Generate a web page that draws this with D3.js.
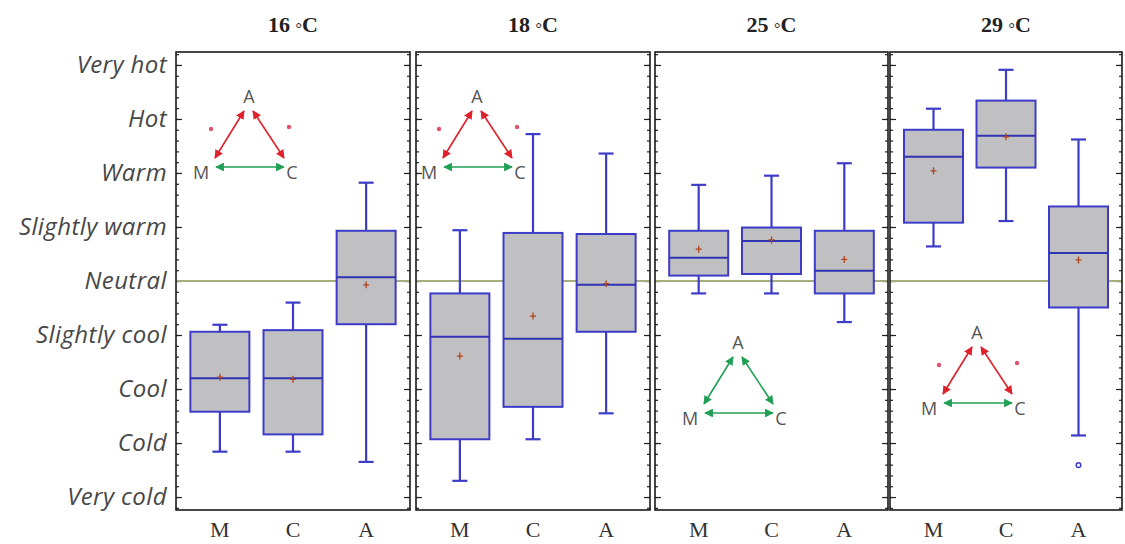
<!DOCTYPE html>
<html>
<head>
<meta charset="utf-8">
<script src="https://cdn.jsdelivr.net/npm/d3@7"></script>
<style>
    body { margin: 0; background: #fff; }
    svg { display: block; }
</style>
</head>
<body>
<div id="chart"></div>
<script>
// thermal sensation vote, -4 (very cold) .. 4 (very hot)
const temps = ['16', '18', '25', '29'];
const categories = ['M', 'C', 'A'];
const sensationLabels = ['Very cold', 'Cold', 'Cool', 'Slightly cool', 'Neutral',
    'Slightly warm', 'Warm', 'Hot', 'Very hot'];
const sensationValues = [-4, -3, -2, -1, 0, 1, 2, 3, 4];

// one row per temperature, columns M, C, A
const whiskerLow = [[-3.16, -3.16, -3.35], [-3.70, -2.93, -2.45], [-0.23, -0.23, -0.76], [0.64, 1.11, -2.86]];
const q1 = [[-2.42, -2.84, -0.80], [-2.93, -2.33, -0.94], [0.10, 0.13, -0.23], [1.08, 2.10, -0.49]];
const median = [[-1.80, -1.80, 0.07], [-1.03, -1.07, -0.07], [0.43, 0.74, 0.19], [2.30, 2.69, 0.52]];
const q3 = [[-0.94, -0.91, 0.93], [-0.23, 0.89, 0.87], [0.93, 0.99, 0.93], [2.80, 3.34, 1.38]];
const whiskerHigh = [[-0.81, -0.40, 1.82], [0.94, 2.72, 2.36], [1.78, 1.95, 2.18], [3.19, 3.91, 2.62]];
const means = [[-1.78, -1.82, -0.07], [-1.39, -0.65, -0.05], [0.59, 0.76, 0.40], [2.04, 2.67, 0.39]];
const outliers = [{ panel: 3, cat: 'A', value: -3.41 }];

// significance of pairs M-A, A-C, M-C per temperature
const significant = [[true, true, false], [true, true, false], [false, false, false], [true, true, false]];

// layout
const W = 1125, H = 544;
const plotTop = 52, plotBottom = 510;
const panelLeft = [176, 416, 655, 890];
const panelWidth = [234, 234, 233, 232];
const triangleAt = [[73, 97], [61, 97], [83, 343], [87, 333]]; // apex label, relative to panel left
const boxWidth = 59;

const boxStroke = '#3c3cc8';
const red = '#e0202a';
const green = '#21a055';

const svg = d3.select('#chart').append('svg')
    .attr('width', W)
    .attr('height', H);

const y = d3.scaleLinear().domain([-4.24, 4.24]).range([plotBottom, plotTop]);

const defs = svg.append('defs');
[['red', red], ['green', green]].forEach(([id, color]) => {
    defs.append('marker')
        .attr('id', 'arrow-' + id)
        .attr('viewBox', '0 0 10 10')
        .attr('refX', 9)
        .attr('refY', 5)
        .attr('markerWidth', 5.5)
        .attr('markerHeight', 5.5)
        .attr('orient', 'auto-start-reverse')
        .append('path')
        .attr('d', 'M0,0 L10,5 L0,10 Z')
        .attr('fill', color);
});

// y labels
const yAxis = svg.append('g')
    .attr('transform', `translate(${panelLeft[0]},0)`)
    .call(d3.axisLeft(y)
        .tickValues(sensationValues)
        .tickFormat((d, i) => sensationLabels[i])
        .tickSize(0)
        .tickPadding(9));
yAxis.select('.domain').remove();
yAxis.selectAll('text')
    .style('font-family', '"Open Sans", sans-serif')
    .style('font-style', 'italic')
    .style('font-size', '24px')
    .style('letter-spacing', '0.4px')
    .style('fill', '#474747');

const minorTicks = d3.range(-42, 43, 2).map(d => d / 10).filter(d => d >= -4.2 && d <= 4.2);

temps.forEach((t, p) => {
    const left = panelLeft[p];
    const right = left + panelWidth[p];
    const x = d3.scalePoint().domain(categories).range([left, right]).padding(0.6);
    const g = svg.append('g');

    // inward ticks on both edges
    [[d3.axisRight, left], [d3.axisLeft, right]].forEach(([axis, pos]) => {
        [[minorTicks, 3], [sensationValues, 6]].forEach(([vals, size]) => {
            const a = g.append('g')
                .attr('transform', `translate(${pos},0)`)
                .call(axis(y).tickValues(vals).tickSize(size).tickFormat(''));
            a.select('.domain').remove();
            a.selectAll('line').attr('stroke', '#222').attr('stroke-width', 1.2);
        });
    });

    // neutral reference
    g.append('line')
        .attr('x1', left).attr('x2', right)
        .attr('y1', y(0)).attr('y2', y(0))
        .attr('stroke', '#a9ac7c')
        .attr('stroke-width', 1.8);

    categories.forEach((c, i) => {
        const cx = x(c);
        const box = g.append('g');
        box.append('line')
            .attr('x1', cx).attr('x2', cx)
            .attr('y1', y(whiskerLow[p][i])).attr('y2', y(whiskerHigh[p][i]))
            .attr('stroke', boxStroke).attr('stroke-width', 2.2);
        [whiskerLow[p][i], whiskerHigh[p][i]].forEach(v => {
            box.append('line')
                .attr('x1', cx - 7.5).attr('x2', cx + 7.5)
                .attr('y1', y(v)).attr('y2', y(v))
                .attr('stroke', boxStroke).attr('stroke-width', 2.2);
        });
        box.append('rect')
            .attr('x', cx - boxWidth / 2)
            .attr('width', boxWidth)
            .attr('y', y(q3[p][i]))
            .attr('height', y(q1[p][i]) - y(q3[p][i]))
            .attr('fill', '#c0c0c2')
            .attr('stroke', boxStroke)
            .attr('stroke-width', 2);
        box.append('line')
            .attr('x1', cx - boxWidth / 2).attr('x2', cx + boxWidth / 2)
            .attr('y1', y(median[p][i])).attr('y2', y(median[p][i]))
            .attr('stroke', '#3232b4').attr('stroke-width', 2);
        const my = y(means[p][i]);
        box.append('path')
            .attr('d', `M${cx - 3},${my} H${cx + 3} M${cx},${my - 3.5} V${my + 3.5}`)
            .attr('stroke', '#b0441e')
            .attr('stroke-width', 1.3);
    });

    outliers.filter(o => o.panel === p).forEach(o => {
        g.append('circle')
            .attr('cx', x(o.cat)).attr('cy', y(o.value))
            .attr('r', 2.3)
            .attr('fill', 'none')
            .attr('stroke', boxStroke)
            .attr('stroke-width', 1.5);
    });

    // frame
    g.append('rect')
        .attr('x', left).attr('y', plotTop)
        .attr('width', right - left).attr('height', plotBottom - plotTop)
        .attr('fill', 'none')
        .attr('stroke', '#1a1a1a')
        .attr('stroke-width', 1.6);

    // title
    const title = svg.append('text')
        .attr('x', (left + right) / 2)
        .attr('y', 32)
        .attr('text-anchor', 'middle')
        .style('font-family', '"Liberation Serif", serif')
        .style('font-weight', 'bold')
        .style('font-size', '22px')
        .style('fill', '#222');
    title.append('tspan').text(t + ' ');
    title.append('tspan').text('°').style('font-size', '16px').style('font-weight', 'normal').attr('dy', 2);
    title.append('tspan').text('C').attr('dy', -2);

    // category labels
    categories.forEach(c => {
        svg.append('text')
            .attr('x', x(c))
            .attr('y', 537)
            .attr('text-anchor', 'middle')
            .style('font-family', '"Liberation Serif", serif')
            .style('font-size', '22px')
            .style('fill', '#333')
            .text(c);
    });

    // pairwise comparison triangle
    const ax = left + triangleAt[p][0];
    const ay = triangleAt[p][1];
    const tri = svg.append('g');
    const pairs = [
        [ax - 5, ay + 14, ax - 34, ay + 61],
        [ax + 4, ay + 14, ax + 35, ay + 61],
        [ax - 33, ay + 70, ax + 35, ay + 70]
    ];
    pairs.forEach((seg, k) => {
        const sig = significant[p][k];
        tri.append('line')
            .attr('x1', seg[0]).attr('y1', seg[1])
            .attr('x2', seg[2]).attr('y2', seg[3])
            .attr('stroke', sig ? red : green)
            .attr('stroke-width', 1.6)
            .attr('marker-start', `url(#arrow-${sig ? 'red' : 'green'})`)
            .attr('marker-end', `url(#arrow-${sig ? 'red' : 'green'})`);
    });
    if (significant[p][0]) {
        tri.append('circle').attr('cx', ax - 38).attr('cy', ay + 32).attr('r', 2.2).attr('fill', '#e2506a');
    }
    if (significant[p][1]) {
        tri.append('circle').attr('cx', ax + 40).attr('cy', ay + 30).attr('r', 2.2).attr('fill', '#e2506a');
    }
    [['A', ax, ay], ['M', ax - 48, ay + 76], ['C', ax + 43, ay + 76]].forEach(([s, tx, ty]) => {
        tri.append('text')
            .attr('x', tx).attr('y', ty)
            .attr('dy', '0.36em')
            .attr('text-anchor', 'middle')
            .style('font-family', '"Open Sans", sans-serif')
            .style('font-size', '18px')
            .style('fill', '#555')
            .text(s);
    });
});
</script>
</body>
</html>
